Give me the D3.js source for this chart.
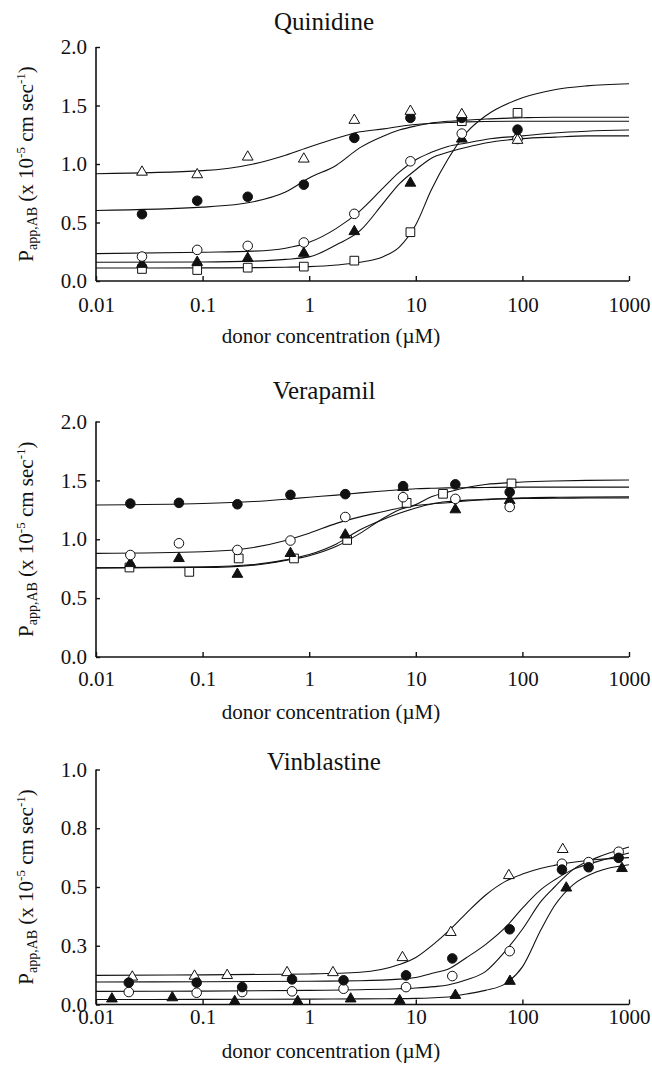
<!DOCTYPE html>
<html>
<head>
<meta charset="utf-8">
<script src="https://cdn.jsdelivr.net/npm/d3@7"></script>
<style>
  body { margin: 0; background: #fff; }
  svg text { font-family: "Liberation Serif", "Times New Roman", Times, "DejaVu Serif", serif; fill: #111; }
</style>
</head>
<body>
<div id="chart"></div>
<script>
const width = 652;
const height = 1065;

// x tick values shared by all three panels
const concTicks = [0.01, 0.1, 1, 10, 100, 1000];

// ---- Quinidine: measured points ----
const quinX = [0.027, 0.089, 0.265, 0.89, 2.65, 8.9, 27, 90];
const quinOpenTri = [0.931, 0.909, 1.06, 1.043, 1.374, 1.451, 1.423, 1.203];
const quinFilledCircle = [0.571, 0.686, 0.72, 0.823, 1.223, 1.394, 1.394, 1.294];
const quinOpenCircle = [0.209, 0.266, 0.30, 0.329, 0.574, 1.023, 1.26, 1.214];
const quinFilledTri = [0.143, 0.16, 0.194, 0.237, 0.423, 0.837, 1.214, 1.237];
const quinOpenSquare = [0.103, 0.094, 0.114, 0.123, 0.174, 0.417, 1.366, 1.437];

// ---- Quinidine: fitted curves ----
const quinCurveX = [0.01, 0.1, 0.3, 0.6, 1, 1.8, 3, 5, 7, 10, 14, 20, 30, 45, 100, 200, 400, 1000];
const quinOpenTriCurve = [0.917, 0.943, 1.0, 1.075, 1.145, 1.22, 1.275, 1.30, 1.32, 1.337, 1.347, 1.355, 1.36, 1.363, 1.365, 1.365, 1.365, 1.365];
const quinFilledCircleCurve = [0.603, 0.631, 0.677, 0.76, 0.88, 0.99, 1.14, 1.24, 1.29, 1.325, 1.35, 1.365, 1.375, 1.385, 1.395, 1.40, 1.40, 1.40];
const quinOpenCircleCurve = [0.234, 0.246, 0.255, 0.28, 0.331, 0.45, 0.60, 0.80, 0.93, 1.037, 1.10, 1.15, 1.18, 1.21, 1.24, 1.265, 1.28, 1.29];
const quinFilledTriCurve = [0.16, 0.163, 0.17, 0.185, 0.206, 0.31, 0.43, 0.67, 0.83, 0.951, 1.05, 1.10, 1.143, 1.18, 1.217, 1.23, 1.24, 1.24];
const quinOpenSquareCurve = [0.111, 0.112, 0.114, 0.118, 0.123, 0.137, 0.16, 0.21, 0.29, 0.48, 0.78, 1.04, 1.27, 1.41, 1.566, 1.635, 1.668, 1.686];

// ---- Verapamil: measured points ----
const veraX = [0.021, 0.06, 0.212, 0.667, 2.18, 7.6, 23.5, 76];
const veraSquareX = [0.0206, 0.075, 0.218, 0.72, 2.27, 8.2, 18, 79];
const veraFilledCircle = [1.303, 1.309, 1.297, 1.377, 1.383, 1.451, 1.466, 1.40];
const veraOpenCircle = [0.866, 0.966, 0.909, 0.989, 1.189, 1.357, 1.343, 1.274];
const veraFilledTri = [0.794, 0.837, 0.703, 0.88, 1.037, 1.44, 1.251, 1.33];
const veraOpenSquare = [0.76, 0.723, 0.837, 0.837, 0.994, 1.309, 1.386, 1.474];

// ---- Verapamil: fitted curves ----
const veraCurveX = [0.01, 0.1, 0.3, 0.6, 1, 1.8, 3, 5, 7, 10, 14, 20, 30, 45, 100, 200, 400, 1000];
const veraFilledCircleCurve = [1.291, 1.303, 1.32, 1.34, 1.357, 1.375, 1.394, 1.41, 1.42, 1.429, 1.433, 1.436, 1.438, 1.44, 1.443, 1.443, 1.443, 1.443];
const veraOpenCircleCurve = [0.88, 0.894, 0.93, 0.99, 1.051, 1.135, 1.19, 1.235, 1.265, 1.286, 1.30, 1.31, 1.325, 1.335, 1.351, 1.356, 1.358, 1.36];
const veraFilledTriCurve = [0.757, 0.765, 0.785, 0.825, 0.87, 0.96, 1.08, 1.17, 1.22, 1.266, 1.30, 1.32, 1.332, 1.34, 1.346, 1.348, 1.35, 1.35];
const veraOpenSquareCurve = [0.757, 0.76, 0.78, 0.82, 0.86, 0.94, 1.05, 1.18, 1.25, 1.294, 1.36, 1.40, 1.44, 1.465, 1.486, 1.495, 1.50, 1.503];

// ---- Vinblastine: measured points ----
const vinOpenTriX = [0.0219, 0.084, 0.17, 0.62, 1.67, 7.5, 21.3, 74.6, 239];
const vinOpenTri = [0.117, 0.121, 0.124, 0.136, 0.136, 0.20, 0.307, 0.549, 0.66];
const vinCircleX = [0.0203, 0.088, 0.235, 0.69, 2.1, 8.1, 22, 76, 235, 418, 800];
const vinFilledCircle = [0.093, 0.093, 0.074, 0.107, 0.103, 0.124, 0.196, 0.32, 0.574, 0.584, 0.624];
const vinOpenCircle = [0.053, 0.05, 0.053, 0.056, 0.067, 0.074, 0.121, 0.227, 0.599, 0.606, 0.65];
const vinFilledTriX = [0.0141, 0.052, 0.2, 0.78, 2.45, 7.06, 23.5, 76.4, 258, 859];
const vinFilledTri = [0.024, 0.029, 0.013, 0.013, 0.024, 0.017, 0.039, 0.099, 0.496, 0.579];

// ---- Vinblastine: fitted curves ----
const vinCurveX = [0.01, 0.1, 1, 3, 7, 10, 15, 20, 30, 45, 70, 100, 150, 200, 300, 500, 1000];
const vinOpenTriCurve = [0.124, 0.126, 0.13, 0.137, 0.17, 0.20, 0.26, 0.31, 0.39, 0.465, 0.525, 0.555, 0.58, 0.592, 0.605, 0.617, 0.625];
const vinFilledCircleCurve = [0.096, 0.097, 0.099, 0.101, 0.108, 0.115, 0.135, 0.15, 0.20, 0.255, 0.33, 0.41, 0.49, 0.53, 0.575, 0.608, 0.645];
const vinOpenCircleCurve = [0.056, 0.057, 0.06, 0.063, 0.067, 0.07, 0.076, 0.083, 0.105, 0.14, 0.23, 0.32, 0.44, 0.50, 0.575, 0.625, 0.67];
const vinFilledTriCurve = [0.021, 0.022, 0.023, 0.024, 0.025, 0.026, 0.029, 0.032, 0.045, 0.06, 0.09, 0.16, 0.32, 0.42, 0.51, 0.565, 0.595];

// marker styles
const markers = {
    openTri: { type: d3.symbolTriangle, size: 50, fill: '#fff' },
    filledTri: { type: d3.symbolTriangle, size: 50, fill: '#111' },
    openCircle: { type: d3.symbolCircle, size: 72, fill: '#fff' },
    filledCircle: { type: d3.symbolCircle, size: 72, fill: '#111' },
    openSquare: { type: d3.symbolSquare, size: 76, fill: '#fff' }
};

const zip = (xs, ys) => ys.map((y, i) => ({ x: xs[i], y: y }));

// panel layout
const panels = [
    {
        title: 'Quinidine', titleY: 30, top: 47, bottom: 281, yMax: 2, yTicks: [0, 0.5, 1, 1.5, 2],
        tickPad: 16, xLabelY: 343,
        curves: [
            zip(quinCurveX, quinOpenTriCurve), zip(quinCurveX, quinFilledCircleCurve),
            zip(quinCurveX, quinOpenCircleCurve), zip(quinCurveX, quinFilledTriCurve),
            zip(quinCurveX, quinOpenSquareCurve)
        ],
        points: [
            { m: 'openSquare', d: zip(quinX, quinOpenSquare) },
            { m: 'filledTri', d: zip(quinX, quinFilledTri) },
            { m: 'openCircle', d: zip(quinX, quinOpenCircle) },
            { m: 'filledCircle', d: zip(quinX, quinFilledCircle) },
            { m: 'openTri', d: zip(quinX, quinOpenTri) }
        ]
    },
    {
        title: 'Verapamil', titleY: 399, top: 421.5, bottom: 657, yMax: 2, yTicks: [0, 0.5, 1, 1.5, 2],
        tickPad: 14, xLabelY: 719,
        curves: [
            zip(veraCurveX, veraFilledCircleCurve), zip(veraCurveX, veraOpenCircleCurve),
            zip(veraCurveX, veraFilledTriCurve), zip(veraCurveX, veraOpenSquareCurve)
        ],
        points: [
            { m: 'openSquare', d: zip(veraSquareX, veraOpenSquare) },
            { m: 'filledTri', d: zip(veraX, veraFilledTri) },
            { m: 'openCircle', d: zip(veraX, veraOpenCircle) },
            { m: 'filledCircle', d: zip(veraX, veraFilledCircle) }
        ]
    },
    {
        title: 'Vinblastine', titleY: 770, top: 769.5, bottom: 1004.5, yMax: 1, yTicks: [0, 0.25, 0.5, 0.75, 1],
        tickPad: 5, xLabelY: 1058,
        curves: [
            zip(vinCurveX, vinOpenTriCurve), zip(vinCurveX, vinFilledCircleCurve),
            zip(vinCurveX, vinOpenCircleCurve), zip(vinCurveX, vinFilledTriCurve)
        ],
        points: [
            { m: 'filledTri', d: zip(vinFilledTriX, vinFilledTri) },
            { m: 'openTri', d: zip(vinOpenTriX, vinOpenTri) },
            { m: 'openCircle', d: zip(vinCircleX, vinOpenCircle) },
            { m: 'filledCircle', d: zip(vinCircleX, vinFilledCircle) }
        ]
    }
];

const svg = d3.select('#chart').append('svg')
    .attr('width', width)
    .attr('height', height);

const x = d3.scaleLog().domain([0.01, 1000]).range([96, 629]);

panels.forEach(p => {
    const y = d3.scaleLinear().domain([0, p.yMax]).range([p.bottom, p.top]);
    const g = svg.append('g');

    // curves first, markers on top
    const line = d3.line()
        .x(d => x(d.x))
        .y(d => y(d.y))
        .curve(d3.curveMonotoneX);

    g.selectAll('path.curve')
        .data(p.curves)
        .enter()
        .append('path')
        .attr('class', 'curve')
        .attr('d', line)
        .attr('fill', 'none')
        .attr('stroke', '#111')
        .attr('stroke-width', 1.1);

    p.points.forEach(s => {
        const mk = markers[s.m];
        g.selectAll(null)
            .data(s.d)
            .enter()
            .append('path')
            .attr('d', d3.symbol().type(mk.type).size(mk.size))
            .attr('transform', d => `translate(${x(d.x)},${y(d.y)})`)
            .attr('fill', mk.fill)
            .attr('stroke', '#111')
            .attr('stroke-width', 1);
    });

    // axes
    const xAxis = g.append('g')
        .attr('transform', `translate(0,${p.bottom})`)
        .call(d3.axisBottom(x)
            .tickValues(concTicks)
            .tickFormat(d => String(d))
            .tickSize(-5)
            .tickPadding(p.tickPad));

    const yAxis = g.append('g')
        .attr('transform', `translate(96,0)`)
        .call(d3.axisLeft(y)
            .tickValues(p.yTicks)
            .tickFormat(d3.format('.1f'))
            .tickSize(-4)
            .tickPadding(9));

    [xAxis, yAxis].forEach(a => {
        a.attr('font-family', null).attr('font-size', null);
        a.select('.domain').attr('stroke', '#111').attr('stroke-width', 1.6);
        a.selectAll('.tick line').attr('stroke', '#111').attr('stroke-width', 1.4);
        a.selectAll('.tick text')
            .style('font-size', '21px')
            .attr('fill', '#111');
    });
    yAxis.select('.domain').attr('d', `M0,${p.top}V${p.bottom}`);
    xAxis.select('.domain').attr('d', `M96,0H629`);

    // title
    svg.append('text')
        .attr('x', 324)
        .attr('y', p.titleY)
        .attr('text-anchor', 'middle')
        .style('font-size', '25px')
        .text(p.title);

    // x label
    svg.append('text')
        .attr('x', 331)
        .attr('y', p.xLabelY)
        .attr('text-anchor', 'middle')
        .style('font-size', '21px')
        .text('donor concentration (\u00b5M)');

    // y label, rotated
    const cy = (p.top + p.bottom) / 2;
    const yl = svg.append('text')
        .attr('transform', `translate(33,${cy}) rotate(-90)`)
        .attr('text-anchor', 'middle')
        .style('font-size', '21px');
    yl.append('tspan').text('P');
    yl.append('tspan').style('font-size', '14px').attr('dy', 4).text('app,AB');
    yl.append('tspan').attr('dy', -4).text(' (x 10');
    yl.append('tspan').style('font-size', '13px').attr('dy', -8).text('-5');
    yl.append('tspan').attr('dy', 8).text(' cm sec');
    yl.append('tspan').style('font-size', '13px').attr('dy', -8).text('-1');
    yl.append('tspan').attr('dy', 8).text(')');
});
</script>
</body>
</html>
